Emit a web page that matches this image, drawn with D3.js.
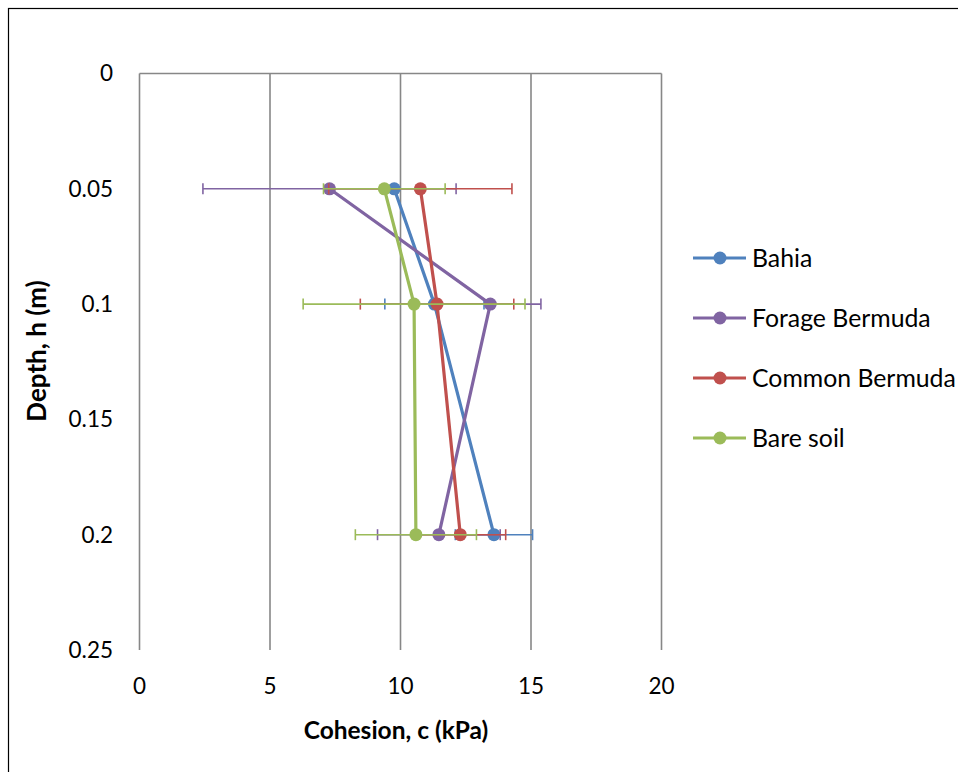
<!DOCTYPE html>
<html>
<head>
<meta charset="utf-8">
<script src="https://cdn.jsdelivr.net/npm/d3@7"></script>
<style>
  html, body { margin: 0; padding: 0; background: #fff; }
  svg { display: block; font-family: Lato, "Open Sans", sans-serif; }
</style>
</head>
<body>
<svg id="chart" width="958" height="772"></svg>
<script>
// Depth levels (m) and cohesion means / standard deviations (kPa)
const depths = [0.05, 0.1, 0.2];
const seriesNames = ["Bahia", "Forage Bermuda", "Common Bermuda", "Bare soil"];
const seriesColors = ["#4F81BD", "#8064A2", "#C0504D", "#9BBB59"];
const bahia = [9.76, 11.3, 13.58];
const bahiaErr = [0, 1.9, 1.48];
const forage = [7.28, 13.44, 11.47];
const forageErr = [4.85, 1.94, 2.35];
const common = [10.76, 11.4, 12.29];
const commonErr = [3.51, 2.94, 1.74];
const bare = [9.38, 10.52, 10.59];
const bareErr = [2.33, 4.25, 2.32];
const xTicks = [0, 5, 10, 15, 20];
const yTicks = [0, 0.05, 0.1, 0.15, 0.2, 0.25];

const seriesValues = [bahia, forage, common, bare];
const seriesErrors = [bahiaErr, forageErr, commonErr, bareErr];

const svg = d3.select("#chart");

// outer frame
svg.append("rect")
  .attr("x", 8.5).attr("y", 8.5)
  .attr("width", 1200).attr("height", 1200)
  .attr("fill", "none").attr("stroke", "#000").attr("stroke-width", 1.2);

const plotLeft = 139.5, plotRight = 661.5, plotTop = 73.5, plotBottom = 650;
const x = d3.scaleLinear().domain([0, 20]).range([plotLeft, plotRight]);
const y = d3.scaleLinear().domain([0, 0.25]).range([plotTop, plotBottom]);

const gridColor = "#878787";
const tickSize = 22.5;

// vertical gridlines
svg.append("g").selectAll("line")
  .data(xTicks.slice(1))
  .join("line")
  .attr("x1", d => x(d)).attr("x2", d => x(d))
  .attr("y1", plotTop).attr("y2", plotBottom)
  .attr("stroke", gridColor).attr("stroke-width", 1.6);

// axis lines (horizontal axis crosses at depth 0, top)
svg.append("line")
  .attr("x1", plotLeft).attr("x2", plotRight).attr("y1", plotTop).attr("y2", plotTop)
  .attr("stroke", gridColor).attr("stroke-width", 1.6);
svg.append("line")
  .attr("x1", plotLeft).attr("x2", plotLeft).attr("y1", plotTop).attr("y2", plotBottom)
  .attr("stroke", gridColor).attr("stroke-width", 1.6);

// y tick labels
svg.append("g").selectAll("text")
  .data(yTicks)
  .join("text")
  .attr("x", 113).attr("y", d => y(d))
  .attr("dy", "0.35em")
  .attr("text-anchor", "end")
  .attr("font-size", tickSize)
  .attr("fill", "#000")
  .text(d => d3.format("")(d));

// x tick labels (placed below the plot)
svg.append("g").selectAll("text")
  .data(xTicks)
  .join("text")
  .attr("x", d => x(d)).attr("y", 686)
  .attr("dy", "0.35em")
  .attr("text-anchor", "middle")
  .attr("font-size", tickSize)
  .attr("fill", "#000")
  .text(d => d);

// axis titles
svg.append("text")
  .attr("x", 396).attr("y", 730)
  .attr("dy", "0.35em")
  .attr("text-anchor", "middle")
  .attr("font-size", 24.5).attr("font-weight", "bold")
  .text("Cohesion, c (kPa)");

svg.append("text")
  .attr("transform", "translate(37,351) rotate(-90)")
  .attr("dy", "0.35em")
  .attr("text-anchor", "middle")
  .attr("font-size", 26).attr("font-weight", "bold")
  .text("Depth, h (m)");

// series: error bars, line, markers
const line = d3.line().x(d => x(d.v)).y(d => y(d.h));

seriesNames.forEach((name, i) => {
  const color = seriesColors[i];
  const pts = depths.map((h, j) => ({ h, v: seriesValues[i][j], e: seriesErrors[i][j] }));
  const g = svg.append("g");

  const eb = g.append("g").selectAll("g")
    .data(pts.filter(p => p.e > 0))
    .join("g");
  eb.append("line")
    .attr("x1", p => x(p.v - p.e)).attr("x2", p => x(p.v + p.e))
    .attr("y1", p => y(p.h)).attr("y2", p => y(p.h))
    .attr("stroke", color).attr("stroke-width", 1.6);
  [-1, 1].forEach(s => {
    eb.append("line")
      .attr("x1", p => x(p.v + s * p.e)).attr("x2", p => x(p.v + s * p.e))
      .attr("y1", p => y(p.h) - 5.5).attr("y2", p => y(p.h) + 5.5)
      .attr("stroke", color).attr("stroke-width", 1.6);
  });

  g.append("path")
    .datum(pts)
    .attr("d", line)
    .attr("fill", "none")
    .attr("stroke", color).attr("stroke-width", 3.2)
    .attr("stroke-linejoin", "round");

  g.append("g").selectAll("circle")
    .data(pts)
    .join("circle")
    .attr("cx", p => x(p.v)).attr("cy", p => y(p.h))
    .attr("r", 6.5)
    .attr("fill", color);
});

// legend
const legend = svg.append("g");
seriesNames.forEach((name, i) => {
  const ly = 258 + i * 60;
  const lg = legend.append("g");
  lg.append("line")
    .attr("x1", 693).attr("x2", 746).attr("y1", ly).attr("y2", ly)
    .attr("stroke", seriesColors[i]).attr("stroke-width", 3.2);
  lg.append("circle")
    .attr("cx", 720).attr("cy", ly).attr("r", 6.5)
    .attr("fill", seriesColors[i]);
  lg.append("text")
    .attr("x", 752).attr("y", ly)
    .attr("dy", "0.35em")
    .attr("font-size", 24.8)
    .text(name);
});
</script>
</body>
</html>
